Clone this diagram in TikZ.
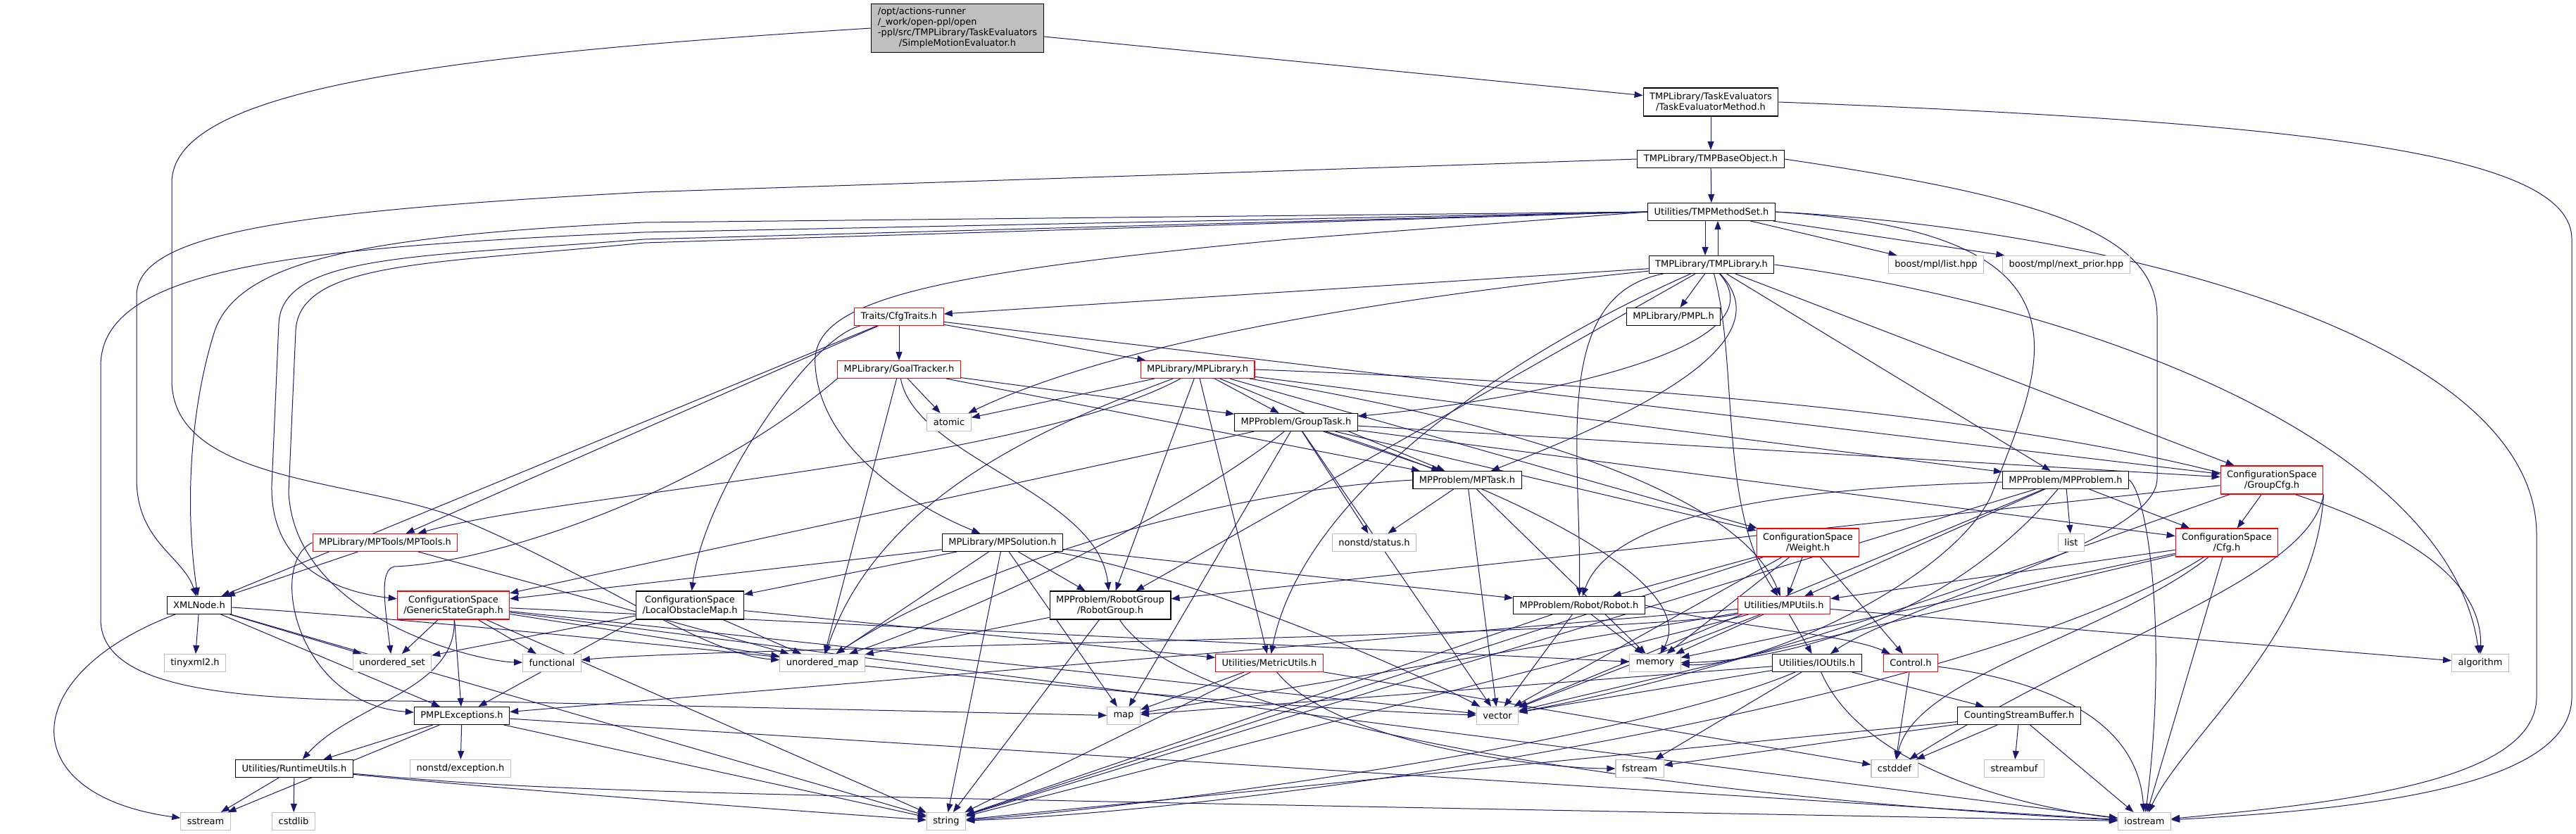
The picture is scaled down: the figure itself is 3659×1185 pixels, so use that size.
\documentclass[tikz,border=0pt]{standalone}
\usepackage{fontspec}
\setmainfont{DejaVu Sans}
\usetikzlibrary{arrows.meta,backgrounds}
\definecolor{edgeblue}{HTML}{191970}
\definecolor{sysgray}{HTML}{BFBFBF}
\definecolor{incred}{HTML}{FF0000}

\begin{document}
\begin{tikzpicture}[x=1pt,y=-1pt,
    file/.style={draw=black,fill=white,line width=1.1pt,font=\fontsize{13}{15}\selectfont,
        inner xsep=9pt,inner ysep=3pt,minimum height=25pt,align=center},
    redfile/.style={file,draw=incred},
    sysfile/.style={file,draw=sysgray},
    twoline/.style={minimum height=40pt},
    dep/.style={draw=edgeblue,line width=1pt,-{Triangle[length=12pt,width=9pt]}}]
    \useasboundingbox (0,0) rectangle (3659,1185);

    % the file itself
    \node[file,fill=sysgray,minimum height=69pt] (root) at (1360,40) {\begin{tabular}{@{}l@{}}/opt/actions-runner\\/\_work/open-ppl/open\\-ppl/src/TMPLibrary/TaskEvaluators\\\multicolumn{1}{@{}c@{}}{/SimpleMotionEvaluator.h}\end{tabular}};

    \node[file,twoline] (tem) at (2430,145) {TMPLibrary/TaskEvaluators\\/TaskEvaluatorMethod.h};
    \node[file] (tmpbase) at (2430,226) {TMPLibrary/TMPBaseObject.h};
    \node[file] (mset) at (2431,301) {Utilities/TMPMethodSet.h};
    \node[file] (tlib) at (2431,376) {TMPLibrary/TMPLibrary.h};
    \node[sysfile] (mpllist) at (2750,376) {boost/mpl/list.hpp};
    \node[sysfile] (mplnext) at (2935,376) {boost/mpl/next\_prior.hpp};

    \node[redfile] (traits) at (1277,450) {Traits/CfgTraits.h};
    \node[file] (pmpl) at (2377,450) {MPLibrary/PMPL.h};
    \node[redfile] (goal) at (1277,525) {MPLibrary/GoalTracker.h};
    \node[redfile] (mplib) at (1701,525) {MPLibrary/MPLibrary.h};
    \node[sysfile] (atomic) at (1348,600) {atomic};
    \node[file] (gtask) at (1841,600) {MPProblem/GroupTask.h};
    \node[file] (mptask) at (2084,682) {MPProblem/MPTask.h};
    \node[file] (mpprob) at (2934,682) {MPProblem/MPProblem.h};
    \node[redfile,twoline] (gcfg) at (3227,682) {ConfigurationSpace\\/GroupCfg.h};

    \node[redfile] (mptools) at (547,771) {MPLibrary/MPTools/MPTools.h};
    \node[file] (mpsol) at (1424,771) {MPLibrary/MPSolution.h};
    \node[sysfile] (nstatus) at (1952,771) {nonstd/status.h};
    \node[redfile,twoline] (weight) at (2568,771) {ConfigurationSpace\\/Weight.h};
    \node[sysfile] (stdlist) at (2942,771) {list};
    \node[redfile,twoline] (cfg) at (3163,771) {ConfigurationSpace\\/Cfg.h};

    \node[file] (xml) at (283,860) {XMLNode.h};
    \node[redfile,twoline] (gsg) at (644,860) {ConfigurationSpace\\/GenericStateGraph.h};
    \node[file,twoline] (lom) at (980,860) {ConfigurationSpace\\/LocalObstacleMap.h};
    \node[file,twoline] (rgroup) at (1577,860) {MPProblem/RobotGroup\\/RobotGroup.h};
    \node[file] (robot) at (2243,860) {MPProblem/Robot/Robot.h};
    \node[redfile] (mputils) at (2534,860) {Utilities/MPUtils.h};

    \node[sysfile] (tinyxml) at (277,942) {tinyxml2.h};
    \node[sysfile] (uset) at (557,942) {unordered\_set};
    \node[sysfile] (functional) at (784,942) {functional};
    \node[sysfile] (umap) at (1168,942) {unordered\_map};
    \node[redfile] (metric) at (1803,942) {Utilities/MetricUtils.h};
    \node[sysfile] (memory) at (2351,942) {memory};
    \node[file] (ioutils) at (2581,942) {Utilities/IOUtils.h};
    \node[redfile] (control) at (2714,942) {Control.h};
    \node[sysfile] (algorithm) at (3523,942) {algorithm};

    \node[file] (except) at (656,1017) {PMPLExceptions.h};
    \node[sysfile] (map) at (1596,1017) {map};
    \node[sysfile] (vector) at (2127,1017) {vector};
    \node[file] (csbuf) at (2868,1017) {CountingStreamBuffer.h};

    \node[file] (runtime) at (418,1092) {Utilities/RuntimeUtils.h};
    \node[sysfile] (nexcept) at (654,1092) {nonstd/exception.h};
    \node[sysfile] (fstream) at (2329,1092) {fstream};
    \node[sysfile] (cstddef) at (2691,1092) {cstddef};
    \node[sysfile] (streambuf) at (2861,1092) {streambuf};

    \node[sysfile] (sstream) at (292,1167) {sstream};
    \node[sysfile] (cstdlib) at (417,1167) {cstdlib};
    \node[sysfile] (string) at (1344,1167) {string};
    \node[sysfile] (iostream) at (3046,1167) {iostream};

    \begin{pgfonlayer}{background}
    \fill[white] (0,0) rectangle (3659,1185);

    % long routed includes
    \draw[dep] (root) -- (tem);
    \draw[dep] (root.west) .. controls (600,80) and (244,130) .. (244,260) -- (244,540) .. controls (244,690) and (520,680) .. (660,740) .. controls (850,820) and (1000,930) .. (umap);
    \draw[dep] (tem) -- (tmpbase);
    \draw[dep] (tem.east) .. controls (3300,175) and (3653,220) .. (3653,340) -- (3653,990) .. controls (3653,1120) and (3350,1150) .. (iostream);
    \draw[dep] (tmpbase) -- (mset);
    \draw[dep] (tmpbase.west) -- (915,273) .. controls (420,300) and (194,330) .. (194,420) -- (194,680) .. controls (194,770) and (260,790) .. (xml);
    \draw[dep] (tmpbase.east) .. controls (2900,280) and (3064,330) .. (3064,450) -- (3064,680) .. controls (3064,770) and (2700,860) .. (ioutils);
    \draw[dep] ([xshift=-9pt]mset.south) -- ([xshift=-9pt]tlib.north);
    \draw[dep] ([xshift=9pt]tlib.north) -- ([xshift=9pt]mset.south);
    \draw[dep] (mset.west) -- (915,316) .. controls (520,335) and (340,370) .. (305,470) .. controls (270,580) and (262,720) .. (xml);
    \draw[dep] (mset.west) -- (915,330) .. controls (420,352) and (143,380) .. (143,520) -- (143,880) .. controls (143,1000) and (420,995) .. (700,997) -- (map);
    \draw[dep] (mset.west) -- (915,340) .. controls (600,365) and (400,360) .. (396,460) -- (386,690) .. controls (384,800) and (470,840) .. (gsg);
    \draw[dep] (mset.west) -- (915,345) .. controls (620,375) and (425,370) .. (420,470) -- (410,700) .. controls (420,880) and (680,940) .. (functional);
    \draw[dep] (mset.west) -- (1830,340) .. controls (1300,390) and (1150,430) .. (1158,520) .. controls (1166,640) and (1300,720) .. (mpsol);
    \draw[dep] (mset.east) .. controls (3000,325) and (3603,480) .. (3603,760) -- (3603,990) .. controls (3603,1110) and (3330,1140) .. (iostream);
    \draw[dep] (mset.east) .. controls (3000,330) and (2900,520) .. (2830,700) .. controls (2780,820) and (2500,950) .. (memory);
    \draw[dep] (tlib.east) .. controls (3000,440) and (3480,640) .. (algorithm);
    \draw[dep] (tlib) .. controls (2000,420) and (1600,480) .. (atomic);
    \draw[dep] (tlib) .. controls (2540,500) and (2150,570) .. (gtask);
    \draw[dep] (tlib) .. controls (2520,470) and (2400,560) .. (mptask);
    \draw[dep] (tlib) .. controls (2200,420) and (2247,650) .. (robot);
    \draw[dep] (tlib) .. controls (2470,520) and (2440,720) .. (mputils);
    \draw[dep] (tlib) .. controls (2150,500) and (1850,700) .. (metric);
    \draw[dep] (traits) .. controls (1150,480) and (1000,700) .. (lom);
    \draw[dep] (goal) .. controls (1300,650) and (1560,700) .. (rgroup);
    \draw[dep] (goal.south west) .. controls (1000,700) and (700,800) .. (560,805) .. controls (540,810) and (545,850) .. (uset);
    \draw[dep] (mplib.east) .. controls (2700,560) and (3530,660) .. (algorithm);
    \draw[dep] (mplib) .. controls (1450,660) and (800,700) .. (mptools);
    \draw[dep] (mplib) .. controls (1500,600) and (1250,700) .. (umap);
    \draw[dep] (mplib) .. controls (1900,560) and (2450,650) .. (mputils);
    \draw[dep] (gtask) .. controls (1650,750) and (1350,880) .. (umap);
    \draw[dep] (gtask) .. controls (2100,680) and (2420,820) .. (memory);
    \draw[dep] (mptask.west) .. controls (1700,700) and (1350,820) .. (umap);
    \draw[dep] (mpprob) .. controls (2700,690) and (2300,700) .. (robot);
    \draw[dep] (mpprob) .. controls (2750,900) and (2500,940) .. (memory);
    \draw[dep] (mpprob.east) .. controls (3050,700) and (3080,900) .. (iostream);
    \draw[dep] (gcfg) .. controls (3000,760) and (2500,950) .. (vector);
    \draw[dep] (gcfg.south east) .. controls (3280,820) and (3000,900) .. (cstddef);
    \draw[dep] (gcfg.south east) .. controls (3290,900) and (3100,1050) .. (iostream);
    \draw[dep] (cfg) .. controls (3000,900) and (2720,960) .. (cstddef);
    \draw[dep] (cfg) .. controls (2800,1000) and (1800,1150) .. (string);
    \draw[dep] (mptools.west) .. controls (380,800) and (420,1000) .. (except);
    \draw[dep] (mpsol) .. controls (1700,820) and (2000,950) .. (vector);
    \draw[dep] (xml) .. controls (900,900) and (1600,1000) .. (vector);
    \draw[dep] (xml) .. controls (20,960) and (20,1130) .. (sstream);
    \draw[dep] (gsg) .. controls (650,980) and (500,1000) .. (runtime);
    \draw[dep] (lom.south west) -- (except);
    \draw[dep] (rgroup) .. controls (1700,1050) and (2500,1140) .. (iostream);
    \draw[dep] (robot.east) .. controls (2450,890) and (2620,900) .. (control);
    \draw[dep] (mputils) .. controls (2300,905) and (1000,920) .. (functional);
    \draw[dep] (metric) .. controls (1900,1060) and (2200,1092) .. (fstream);
    \draw[dep] (ioutils) .. controls (2300,1060) and (1600,1150) .. (string);
    \draw[dep] (ioutils) .. controls (2650,1100) and (2900,1150) .. (iostream);
    \draw[dep] (control) .. controls (3000,980) and (3040,1080) .. (iostream);
    \draw[dep] (runtime) .. controls (700,1120) and (1100,1150) .. (string);
    \draw[dep] (runtime) .. controls (800,1125) .. (iostream);

    % direct includes
    \foreach \t in {mpllist,mplnext} \draw[dep] (mset) -- (\t);
    \foreach \t in {traits,pmpl,mpprob,gcfg,rgroup} \draw[dep] (tlib) -- (\t);
    \foreach \t in {goal,mplib,mptools,xml,gcfg} \draw[dep] (traits) -- (\t);
    \foreach \t in {atomic,gtask,mptask,umap} \draw[dep] (goal) -- (\t);
    \foreach \t in {atomic,gtask,mptask,mpprob,weight,rgroup,metric} \draw[dep] (mplib) -- (\t);
    \foreach \t in {gcfg,cfg,mptask,nstatus,weight,gsg,map,vector} \draw[dep] (gtask) -- (\t);
    \foreach \t in {nstatus,vector,memory} \draw[dep] (mptask) -- (\t);
    \foreach \t in {cfg,stdlist,mputils,vector,string} \draw[dep] (mpprob) -- (\t);
    \foreach \t in {cfg,rgroup} \draw[dep] (gcfg) -- (\t);
    \foreach \t in {mputils,vector,memory,iostream} \draw[dep] (cfg) -- (\t);
    \foreach \t in {xml,umap} \draw[dep] (mptools) -- (\t);
    \foreach \t in {gsg,lom,rgroup,robot,umap,map,string} \draw[dep] (mpsol) -- (\t);
    \foreach \t in {robot,mputils,control,memory,vector,string} \draw[dep] (weight) -- (\t);
    \foreach \t in {tinyxml,uset,except,string} \draw[dep] (xml) -- (\t);
    \foreach \t in {uset,functional,except,umap,vector,memory,string,iostream} \draw[dep] (gsg) -- (\t);
    \foreach \t in {uset,umap,metric} \draw[dep] (lom) -- (\t);
    \foreach \t in {umap,string} \draw[dep] (rgroup) -- (\t);
    \foreach \t in {memory,vector,string} \draw[dep] (robot) -- (\t);
    \foreach \t in {ioutils,memory,algorithm,map,vector,string,except} \draw[dep] (mputils) -- (\t);
    \foreach \t in {map,string,cstddef} \draw[dep] (metric) -- (\t);
    \foreach \t in {csbuf,fstream,vector,map} \draw[dep] (ioutils) -- (\t);
    \draw[dep] (control) -- (cstddef);
    \foreach \t in {runtime,nexcept,sstream,string,iostream} \draw[dep] (except) -- (\t);
    \foreach \t in {sstream,cstdlib} \draw[dep] (runtime) -- (\t);
    \foreach \t in {streambuf,fstream,cstddef,string,iostream} \draw[dep] (csbuf) -- (\t);
    \end{pgfonlayer}
\end{tikzpicture}
\end{document}
